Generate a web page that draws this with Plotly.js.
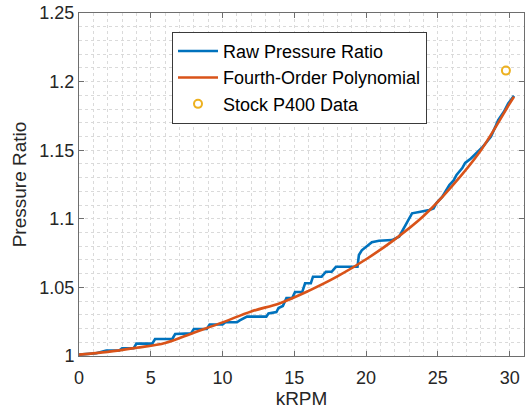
<!DOCTYPE html>
<html>
<head>
<meta charset="utf-8">
<script src="https://cdn.plot.ly/plotly-3.0.1.min.js"></script>
<style>html,body{margin:0;padding:0;background:#fff;}#chart{width:526px;height:416px;}</style>
</head>
<body>
<div id="chart"></div>
<script>
// Raw pressure ratio (stepped)
const rawRPM = [0, 1.2, 1.9, 2.8, 3.0, 3.8, 4.0, 5.1, 5.3, 6.5, 6.7, 7.8, 8.0, 8.9, 9.1, 10.0, 10.2, 11.0, 11.2, 11.7, 13.05, 13.2, 13.75, 13.9, 14.2, 14.45, 14.85, 15.05, 15.55, 15.75, 16.15, 16.3, 16.9, 17.2, 17.6, 17.9, 19.4, 19.5, 19.7, 20.0, 20.4, 20.9, 21.8, 22.3, 22.5, 22.8, 23.0, 23.2, 23.7, 24.4, 24.7, 24.9, 25.3, 25.6, 25.8, 26.1, 26.3, 26.7, 26.9, 27.3, 27.7, 28.05, 28.4, 28.7, 29.0, 29.2, 29.6, 29.9, 30.3];
const rawPR  = [1.001, 1.002, 1.004, 1.004, 1.0056, 1.0056, 1.009, 1.009, 1.0124, 1.0124, 1.016, 1.0165, 1.0197, 1.0197, 1.023, 1.023, 1.0246, 1.0246, 1.026, 1.0287, 1.0287, 1.031, 1.032, 1.035, 1.0364, 1.0423, 1.0423, 1.0466, 1.0466, 1.053, 1.053, 1.0578, 1.0578, 1.0614, 1.0614, 1.065, 1.065, 1.0736, 1.077, 1.0797, 1.083, 1.084, 1.0845, 1.087, 1.0906, 1.097, 1.1006, 1.104, 1.105, 1.1064, 1.1076, 1.1115, 1.116, 1.121, 1.1246, 1.128, 1.132, 1.137, 1.1407, 1.144, 1.148, 1.1516, 1.156, 1.160, 1.167, 1.172, 1.178, 1.184, 1.1897];
// Fourth-order polynomial curve
const fitRPM = [0, 2, 4, 6, 8, 10, 12, 14, 16, 18, 20, 22, 24, 26, 28, 30, 30.3];
const fitPR  = [1.001, 1.003, 1.006, 1.0095, 1.017, 1.0245, 1.0325, 1.0385, 1.0475, 1.058, 1.0705, 1.085, 1.102, 1.124, 1.150, 1.184, 1.189];
// Stock P400 data
const stockRPM = [29.74];
const stockPR  = [1.208];

const seriesNames = ["Raw Pressure Ratio", "Fourth-Order Polynomial", "Stock P400 Data"];
const xTicks = [0, 5, 10, 15, 20, 25, 30];
const yTicks = [1, 1.05, 1.1, 1.15, 1.2, 1.25];
const yTickText = ["1", "1.05", "1.1", "1.15", "1.2", "1.25"];

const FONT = "Liberation Sans, Arial, Helvetica, sans-serif";
const txt = "#262626";

const traces = [
  {x: rawRPM, y: rawPR, mode: "lines", name: seriesNames[0],
   line: {color: "#0072BD", width: 2.6}},
  {x: fitRPM, y: fitPR, mode: "lines", name: seriesNames[1],
   line: {color: "#D95319", width: 2.6, shape: "spline"}},
  {x: stockRPM, y: stockPR, mode: "markers", name: seriesNames[2],
   marker: {symbol: "circle-open", color: "#EDB120", size: 8, line: {width: 2, color: "#EDB120"}}}
];

const gridCol = "#dadada";
const axisCommon = {
  showline: true, mirror: "ticks", linecolor: "#6e6e6e", linewidth: 1,
  ticks: "inside", ticklen: 5, tickcolor: "#6e6e6e",
  showgrid: true, gridcolor: gridCol, griddash: "dot", gridwidth: 1,
  zeroline: false,
  tickfont: {family: FONT, size: 18, color: txt}
};

const layout = {
  width: 526, height: 416,
  margin: {l: 79, r: 2, t: 13, b: 60},
  paper_bgcolor: "#ffffff", plot_bgcolor: "#ffffff",
  font: {family: FONT, color: txt},
  showlegend: true,
  legend: {
    x: 0.209, y: 0.945, xanchor: "left", yanchor: "top",
    bgcolor: "#ffffff", bordercolor: "#3a3a3a", borderwidth: 1,
    font: {family: FONT, size: 18, color: "#000"},
    itemwidth: 40
  },
  xaxis: Object.assign({}, axisCommon, {
    range: [0, 31], tickvals: xTicks, ticklabelstandoff: 5,
    minor: {dtick: 1, showgrid: true, gridcolor: gridCol, griddash: "dot", gridwidth: 1, ticks: ""},
    title: {text: "kRPM", font: {family: FONT, size: 19, color: txt}, standoff: 5}
  }),
  yaxis: Object.assign({}, axisCommon, {
    range: [1, 1.25], tickvals: yTicks, ticktext: yTickText,
    minor: {dtick: 0.01, showgrid: true, gridcolor: gridCol, griddash: "dot", gridwidth: 1, ticks: ""},
    title: {text: "Pressure Ratio", font: {family: FONT, size: 19, color: txt}, standoff: 7}
  })
};

Plotly.newPlot("chart", traces, layout, {displayModeBar: false, staticPlot: true});
</script>
</body>
</html>
